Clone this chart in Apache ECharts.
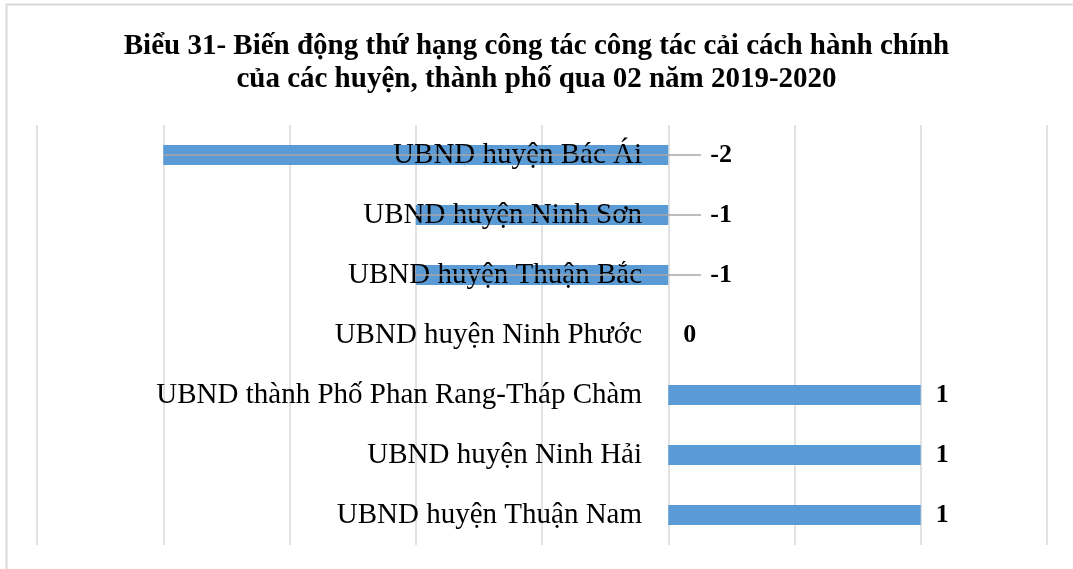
<!DOCTYPE html>
<html>
<head>
<meta charset="utf-8">
<script src="https://cdn.jsdelivr.net/npm/echarts@6/dist/echarts.min.js"></script>
<style>
  html, body { margin: 0; padding: 0; background: #fff; }
  #chart { width: 1073px; height: 569px; }
</style>
</head>
<body>
<div id="chart"></div>
<script>
const titleText = 'Biểu 31- Biến động thứ hạng công tác công tác cải cách hành chính\ncủa các huyện, thành phố qua 02 năm 2019-2020'
const units = [
    'UBND huyện Bác Ái',
    'UBND huyện Ninh Sơn',
    'UBND huyện Thuận Bắc',
    'UBND huyện Ninh Phước',
    'UBND thành Phố Phan Rang-Tháp Chàm',
    'UBND huyện Ninh Hải',
    'UBND huyện Thuận Nam'
]
const changes = [-2, -1, -1, 0, 1, 1, 1]

const font = '"Liberation Serif", "Times New Roman", serif'

// đường dẫn nhãn cho các thanh âm (như Excel)
const leaderLines = []
changes.forEach((v, i) => {
    if (v < 0) leaderLines.push([{ coord: [v, units[i]] }, { coord: [0.13, units[i]] }])
})

echarts.init(document.getElementById('chart')).setOption({
    animation: false,
    title: {
        text: titleText,
        left: 'center',
        top: 25,
        textStyle: {
            fontFamily: font,
            fontSize: 29,
            fontWeight: 'bold',
            color: '#000',
            lineHeight: 33
        }
    },
    graphic: [{
        type: 'rect',
        shape: { x: 6.5, y: 4.5, width: 1200, height: 700 },
        style: { fill: 'none', stroke: '#d9d9d9', lineWidth: 2 },
        silent: true
    }],
    grid: {
        left: 37,
        right: 26,
        top: 125,
        bottom: 24,
        containLabel: false,
        outerBoundsMode: 'none'
    },
    xAxis: {
        type: 'value',
        min: -2.5,
        max: 1.5,
        interval: 0.5,
        axisLabel: { show: false },
        axisLine: { show: false },
        axisTick: { show: false },
        splitLine: {
            show: true,
            lineStyle: { color: '#d9d9d9', width: 1.5 }
        }
    },
    yAxis: {
        type: 'category',
        data: units,
        inverse: true,
        z: 10,
        axisLine: { show: false, onZero: false },
        axisTick: { show: false },
        axisLabel: {
            // nhãn nằm sát trục 0 như bản gốc
            margin: -605,
            fontFamily: font,
            fontSize: 29,
            color: '#000'
        }
    },
    series: [{
        type: 'bar',
        barWidth: 20,
        itemStyle: { color: '#5b9bd5' },
        label: {
            show: true,
            position: 'right',
            fontFamily: font,
            fontSize: 26,
            fontWeight: 'bold',
            color: '#000'
        },
        data: changes.map(v => ({
            value: v,
            label: { distance: v < 0 ? 42 : 15 }
        })),
        markLine: {
            silent: true,
            symbol: 'none',
            z: 20,
            label: { show: false },
            lineStyle: { color: '#a6a6a6', width: 1.5, type: 'solid' },
            data: leaderLines
        }
    }]
})
</script>
</body>
</html>
